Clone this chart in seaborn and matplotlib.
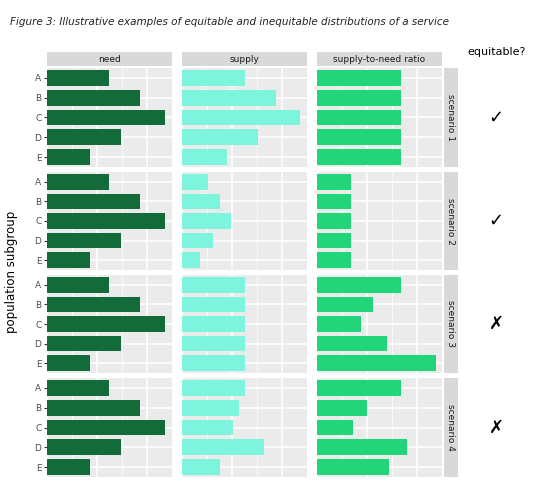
import matplotlib
matplotlib.use("Agg")
import matplotlib.pyplot as plt
import seaborn as sns
import pandas as pd
from matplotlib.ticker import MultipleLocator

groups = ["A", "B", "C", "D", "E"]
scenarios = ["scenario 1", "scenario 2", "scenario 3", "scenario 4"]
columns = ["need", "supply", "supply-to-need ratio"]
need = [6.2, 9.3, 11.8, 7.4, 4.3]
supply = {
    "scenario 1": [6.3, 9.4, 11.8, 7.6, 4.5],
    "scenario 2": [2.6, 3.8, 4.9, 3.1, 1.8],
    "scenario 3": [6.3, 6.3, 6.3, 6.3, 6.3],
    "scenario 4": [6.3, 5.7, 5.1, 8.2, 3.8],
}
ratio = {
    "scenario 1": [8.4, 8.4, 8.4, 8.4, 8.4],
    "scenario 2": [3.4, 3.4, 3.4, 3.4, 3.4],
    "scenario 3": [8.4, 5.6, 4.4, 7.0, 11.9],
    "scenario 4": [8.4, 5.0, 3.6, 9.0, 7.2],
}
equitable = ["✓", "✓", "✗", "✗"]
colors = ["#146b3a", "#7cf5dc", "#22d47a"]

W, H = 537, 492
fig = plt.figure(figsize=(W / 100, H / 100), dpi=100)
col_x = [(47, 172), (182, 307), (317, 442)]
row_y = [(68, 167), (172, 270), (275, 373), (378, 477)]

def fr(x0, y0, x1, y1):
    return [x0 / W, 1 - y1 / H, (x1 - x0) / W, (y1 - y0) / H]

for ri, sc in enumerate(scenarios):
    y0, y1 = row_y[ri]
    for ci, col in enumerate(columns):
        x0, x1 = col_x[ci]
        ax = fig.add_axes(fr(x0, y0, x1, y1))
        vals = need if ci == 0 else (supply[sc] if ci == 1 else ratio[sc])
        df = pd.DataFrame({"g": groups, "v": vals})
        sns.barplot(data=df, x="v", y="g", color=colors[ci], ax=ax,
                    saturation=1, width=0.8, zorder=3)
        ax.set_facecolor("#ebebeb")
        ax.set_xlim(0, 12.5)
        ax.xaxis.set_major_locator(MultipleLocator(5))
        ax.xaxis.set_minor_locator(MultipleLocator(2.5))
        ax.grid(which="major", axis="both", color="white", lw=1.1, zorder=0)
        ax.grid(which="minor", axis="x", color="white", lw=0.5, zorder=0)
        ax.set_axisbelow(True)
        for s in ax.spines.values():
            s.set_visible(False)
        ax.set_xlabel("")
        ax.set_ylabel("")
        ax.tick_params(axis="x", which="both", length=0, labelbottom=False)
        if ci == 0:
            ax.tick_params(axis="y", length=2.5, color="#333333",
                           labelsize=6.5, labelcolor="#4d4d4d", pad=1.5)
        else:
            ax.tick_params(axis="y", length=0, labelleft=False)
        if ri == 0:
            sax = fig.add_axes(fr(x0, 52, x1, 66))
            sax.set_facecolor("#d9d9d9")
            sax.set_xticks([]); sax.set_yticks([])
            for s in sax.spines.values():
                s.set_visible(False)
            sax.text(0.5, 0.5, col, ha="center", va="center", fontsize=6.5,
                     color="#1a1a1a", transform=sax.transAxes)
    sax = fig.add_axes(fr(444, y0, 458, y1))
    sax.set_facecolor("#d9d9d9")
    sax.set_xticks([]); sax.set_yticks([])
    for s in sax.spines.values():
        s.set_visible(False)
    sax.text(0.5, 0.5, sc, ha="center", va="center", fontsize=6.5,
             rotation=-90, color="#1a1a1a", transform=sax.transAxes)
    fig.text(496 / W, 1 - ((y0 + y1) / 2) / H, equitable[ri], ha="center",
             va="center", fontsize=13, fontweight="bold")

fig.text(12 / W, 1 - 272 / H, "population subgroup", rotation=90,
         ha="center", va="center", fontsize=8.5)
fig.text(10 / W, 1 - 22 / H,
         "Figure 3: Illustrative examples of equitable and inequitable distributions of a service",
         ha="left", va="center", fontsize=7.5, style="italic", color="#222222")
fig.text(497 / W, 1 - 52 / H, "equitable?", ha="center", va="center",
         fontsize=8)
fig.savefig("out.png", dpi=100)
